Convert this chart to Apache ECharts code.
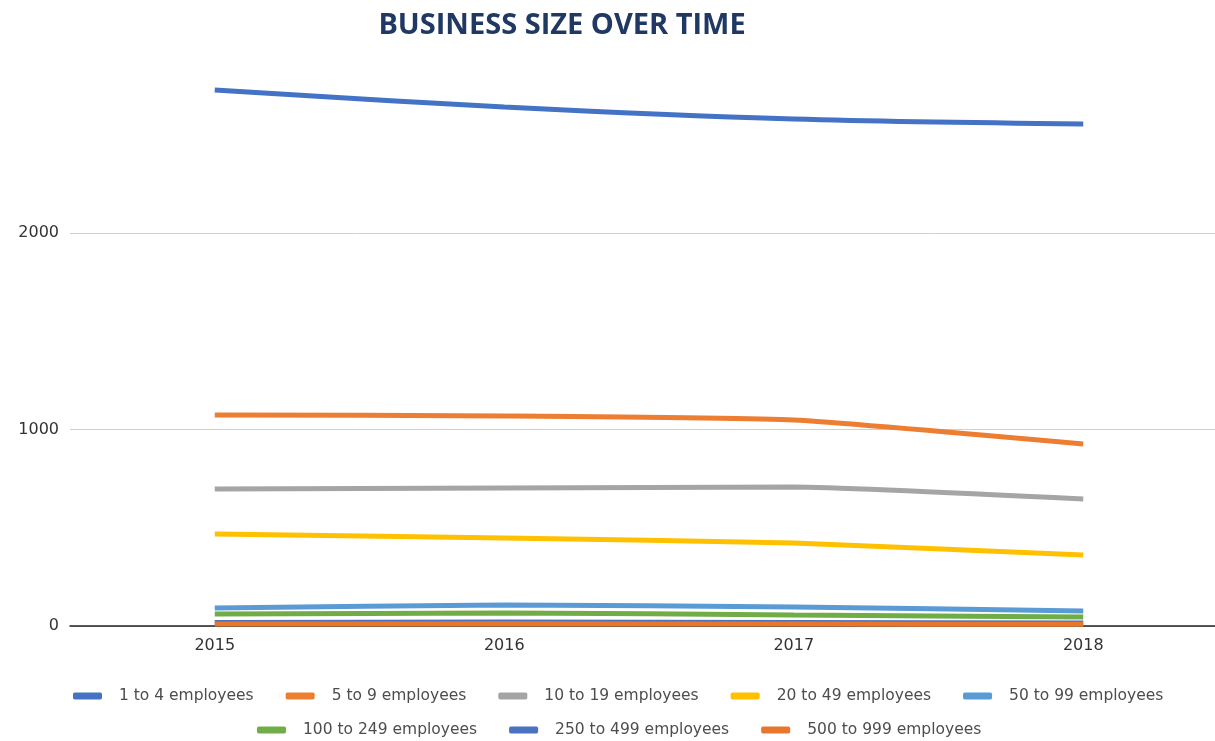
<!DOCTYPE html>
<html>
<head>
<meta charset="utf-8">
<script src="https://cdn.jsdelivr.net/npm/echarts@6/dist/echarts.min.js"></script>
<style>
  html, body { margin: 0; padding: 0; background: #ffffff; }
  #chart { width: 1215px; height: 741px; }
</style>
</head>
<body>
<div id="chart"></div>
<script>
// Years shown along the horizontal axis
const years = ['2015', '2016', '2017', '2018'];

// Number of businesses per size band
const emp1to4 = [2728, 2641, 2580, 2555];
const emp5to9 = [1074, 1069, 1048, 926];
const emp10to19 = [697, 702, 707, 646];
const emp20to49 = [468, 448, 422, 361];
const emp50to99 = [92, 107, 97, 76];
const emp100to249 = [61, 66, 56, 46];
const emp250to499 = [18, 20, 18, 15];
const emp500to999 = [10, 11, 10, 9];

const seriesNames = [
  '1 to 4 employees', '5 to 9 employees', '10 to 19 employees',
  '20 to 49 employees', '50 to 99 employees', '100 to 249 employees',
  '250 to 499 employees', '500 to 999 employees'
];
const seriesData = [emp1to4, emp5to9, emp10to19, emp20to49, emp50to99, emp100to249, emp250to499, emp500to999];
const seriesColors = ['#4472C4', '#ED7D31', '#A5A5A5', '#FFC000', '#5B9BD5', '#70AD47', '#4A72C0', '#E8762F'];
const seriesSmooth = [0.35, 0.15, 0.15, 0.15, 0.2, 0.2, 0.2, 0.2];

const chart = echarts.init(document.getElementById('chart'), null, { renderer: 'canvas' });

const legendText = { fontFamily: 'DejaVu Sans', fontSize: 15.5, color: '#4d4d4d', padding: [0, 0, 0, 12] };
const legendCommon = {
  itemWidth: 29, itemHeight: 7, itemGap: 32,
  icon: 'roundRect',
  textStyle: legendText
};

chart.setOption({
  backgroundColor: '#ffffff',
  animation: false,
  title: {
    text: 'BUSINESS SIZE OVER TIME',
    left: 557,
    textAlign: 'center',
    top: 6,
    textStyle: { fontFamily: 'Open Sans', fontWeight: 'bold', fontSize: 29, color: '#203864' }
  },
  legend: [
    Object.assign({ data: seriesNames.slice(0, 5), left: 68, top: 683 }, legendCommon),
    Object.assign({ data: seriesNames.slice(5), left: 252, top: 717 }, legendCommon)
  ],
  grid: { left: 70, right: -13, top: 36.5, bottom: 115, outerBoundsMode: 'none', containLabel: false },
  xAxis: {
    type: 'category',
    data: years,
    boundaryGap: true,
    axisLine: { lineStyle: { color: '#222222', width: 1.5 } },
    axisTick: { show: false },
    axisLabel: { margin: 12, fontFamily: 'DejaVu Sans', fontSize: 16, color: '#333333' }
  },
  yAxis: {
    type: 'value',
    min: 0, max: 3000, interval: 1000,
    axisLine: { show: false },
    axisTick: { show: false },
    axisLabel: {
      margin: 11, fontFamily: 'DejaVu Sans', fontSize: 16, color: '#333333',
      formatter: v => (v >= 3000 ? '' : String(v))
    },
    splitLine: { showMaxLine: false, lineStyle: { color: '#d0d0d0', width: 1 } }
  },
  series: seriesNames.map((name, i) => ({
    name,
    type: 'line',
    data: seriesData[i],
    smooth: seriesSmooth[i],
    symbol: 'none',
    color: seriesColors[i],
    z: 2 + i,
    lineStyle: { width: 5, color: seriesColors[i], cap: 'butt' }
  }))
});
</script>
</body>
</html>
